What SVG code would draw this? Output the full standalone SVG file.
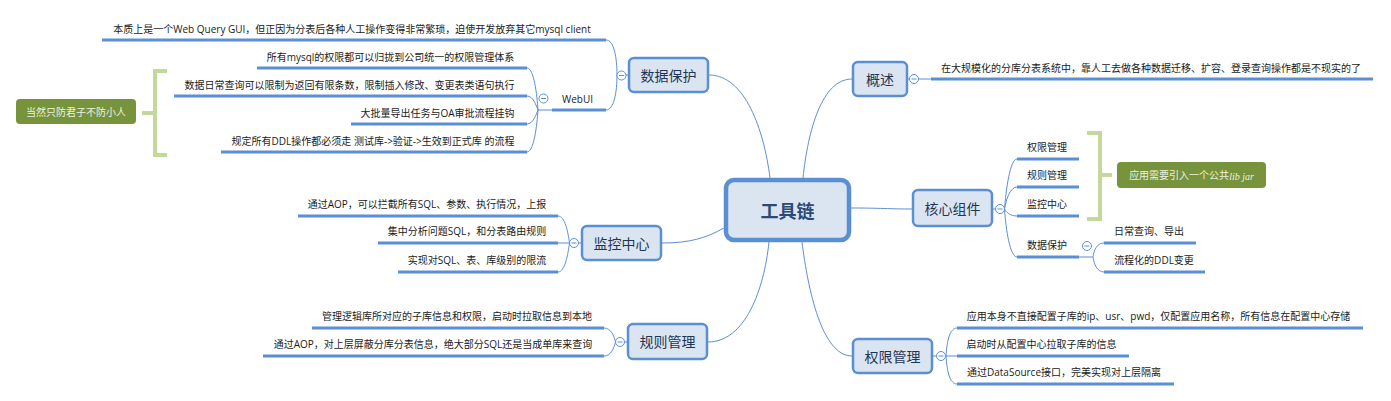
<svg xmlns="http://www.w3.org/2000/svg" width="1391" height="401" viewBox="0 0 1391 401">
<style>
.bg{fill:#ffffff}
.box{fill:#dbe5f1;stroke:#5b8fd4;stroke-width:2.5}
.root{fill:#dbe5f1;stroke:#5b8fd4;stroke-width:4.5}
.bt{font-family:"Open Sans","Noto Sans CJK SC",sans-serif;font-size:14px;fill:#1f3556;text-anchor:middle;dominant-baseline:central}
.rt{font-family:"Open Sans","Noto Sans CJK SC",sans-serif;font-size:18px;font-weight:bold;fill:#2b4a78;text-anchor:middle;dominant-baseline:central}
.t{font-family:"Open Sans","Noto Sans CJK SC",sans-serif;font-size:10px;fill:#1a1a1a}
.tm{text-anchor:middle}
.ul{stroke:#5b8fd4;stroke-width:3;fill:none}
.c{stroke:#5b8fd4;stroke-width:1;fill:none}
.btn{fill:#ffffff;stroke:#5b8fd4;stroke-width:1}
.btnm{stroke:#5b8fd4;stroke-width:1}
.br{stroke:#c4d89c;stroke-width:4;fill:none}
.gn{fill:#77933c}
.gt{font-family:"Liberation Serif","Noto Sans CJK SC",serif;font-size:10px;fill:#edf2e2;text-anchor:middle;dominant-baseline:central}
</style>
<rect class="bg" x="0" y="0" width="1391" height="401"/>

<g id="connectors">
  <path class="c" d="M709,75 C745,75 764,130 770,178"/>
  <path class="c" d="M852,79 C822,79 808,130 803,178"/>
  <path class="c" d="M662,243 C690,243 706,238 724,228"/>
  <path class="c" d="M708,342 C745,342 764,290 769,242"/>
  <path class="c" d="M852,356 C822,356 808,290 802,242"/>
  <path class="c" d="M851,208 C880,208 890,209 912,209"/>

  <path class="c" d="M628,75 H626"/>
  <path class="c" d="M606,40 C614,40 617,58 617,75 C617,92 614,110 606,110"/>
  <path class="c" d="M527,68 C534,68 537,95 538,110 M527,96 C533,96 536,105 538,110 M527,124 C533,124 536,115 538,110 M527,152 C534,152 537,125 538,110 M538,110 H552"/>

  <path class="c" d="M908,79 H909.5 M918.5,79 H931"/>

  <path class="c" d="M581,243 H578.5"/>
  <path class="c" d="M558,216 C565,216 568,232 569.5,243 M558,243 H569.5 M558,272 C565,272 568,254 569.5,243"/>

  <path class="c" d="M627,342 H624.5"/>
  <path class="c" d="M604,328 C611,328 614,336 615.5,342 M604,356 C611,356 614,348 615.5,342"/>

  <path class="c" d="M933,356 H936.5"/>
  <path class="c" d="M945.5,356 H957 M957,328 C950,328 947,340 946,356 M957,384 C950,384 947,372 946,356"/>

  <path class="c" d="M993,209 H995.5"/>
  <path class="c" d="M1017,159 C1010,159 1006,190 1004.5,209 M1017,187 C1010,187 1006,200 1004.5,209 M1017,216 C1010,216 1006,212 1004.5,209 M1017,257 C1010,257 1006,230 1004.5,209"/>
  <path class="c" d="M1079,257 H1093 M1104,243 C1097,243 1094,250 1093,257 M1104,272 C1097,272 1094,264 1093,257"/>
</g>

<g id="root">
  <rect class="root" x="726" y="180" width="123" height="60" rx="8"/>
  <text class="rt" x="787.5" y="211">工具链</text>
</g>

<g id="n-shujubaohu">
  <rect class="box" x="629" y="58" width="79" height="34" rx="5"/>
  <text class="bt" x="668.5" y="75">数据保护</text>
  <circle class="btn" cx="621.5" cy="75.5" r="4.5"/><path class="btnm" d="M619,75.5 H624"/>
</g>
<g id="n-d1">
  <text class="t tm" x="352" y="33">本质上是一个Web Query GUI，但正因为分表后各种人工操作变得非常繁琐，迫使开发放弃其它mysql client</text>
  <path class="ul" d="M102,40 H606"/>
</g>
<g id="n-webui">
  <text class="t tm" x="577.5" y="103">WebUI</text>
  <path class="ul" d="M552,110 H606"/>
  <circle class="btn" cx="543.5" cy="98.5" r="4.5"/><path class="btnm" d="M541,98.5 H546"/>
</g>
<g id="n-w1">
  <text class="t tm" x="390.5" y="61">所有mysql的权限都可以归拢到公司统一的权限管理体系</text>
  <path class="ul" d="M257,68 H527"/>
</g>
<g id="n-w2">
  <text class="t tm" x="349.5" y="89">数据日常查询可以限制为返回有限条数，限制插入修改、变更表类语句执行</text>
  <path class="ul" d="M174,96 H527"/>
</g>
<g id="n-w3">
  <text class="t tm" x="437.5" y="117">大批量导出任务与OA审批流程挂钩</text>
  <path class="ul" d="M351,124 H527"/>
</g>
<g id="n-w4">
  <text class="t tm" x="373" y="145">规定所有DDL操作都必须走 测试库-&gt;验证-&gt;生效到正式库 的流程</text>
  <path class="ul" d="M221,152 H527"/>
</g>
<g id="n-note1">
  <path class="br" d="M167,71 H155 V155 H167 M155,113 H142"/>
  <rect class="gn" x="16" y="99" width="120" height="25" rx="4"/>
  <text class="gt" x="76" y="112">当然只防君子不防小人</text>
</g>

<g id="n-gaishu">
  <rect class="box" x="853" y="62" width="54" height="34" rx="5"/>
  <text class="bt" x="880" y="79">概述</text>
  <circle class="btn" cx="914" cy="79" r="4.5"/><path class="btnm" d="M911.5,79 H916.5"/>
</g>
<g id="n-g1">
  <text class="t tm" x="1151" y="72">在大规模化的分库分表系统中，靠人工去做各种数据迁移、扩容、登录查询操作都是不现实的了</text>
  <path class="ul" d="M931,79 H1373"/>
</g>

<g id="n-jiankong">
  <rect class="box" x="582" y="226" width="79" height="34" rx="5"/>
  <text class="bt" x="621.5" y="243">监控中心</text>
  <circle class="btn" cx="574" cy="243" r="4.5"/><path class="btnm" d="M571.5,243 H576.5"/>
</g>
<g id="n-j1">
  <text class="t tm" x="427" y="208">通过AOP，可以拦截所有SQL、参数、执行情况，上报</text>
  <path class="ul" d="M298,216 H558"/>
</g>
<g id="n-j2">
  <text class="t tm" x="467" y="235">集中分析问题SQL，和分表路由规则</text>
  <path class="ul" d="M378,243 H558"/>
</g>
<g id="n-j3">
  <text class="t tm" x="477" y="264">实现对SQL、表、库级别的限流</text>
  <path class="ul" d="M398,272 H558"/>
</g>

<g id="n-guize">
  <rect class="box" x="628" y="324" width="79" height="35" rx="5"/>
  <text class="bt" x="667.5" y="341.5">规则管理</text>
  <circle class="btn" cx="620" cy="342" r="4.5"/><path class="btnm" d="M617.5,342 H622.5"/>
</g>
<g id="n-r1">
  <text class="t tm" x="457" y="320">管理逻辑库所对应的子库信息和权限，启动时拉取信息到本地</text>
  <path class="ul" d="M312,328 H604"/>
</g>
<g id="n-r2">
  <text class="t tm" x="433" y="348">通过AOP，对上层屏蔽分库分表信息，绝大部分SQL还是当成单库来查询</text>
  <path class="ul" d="M263,356 H604"/>
</g>

<g id="n-quanxian">
  <rect class="box" x="853" y="339" width="79" height="34" rx="5"/>
  <text class="bt" x="892.5" y="356">权限管理</text>
  <circle class="btn" cx="941" cy="356" r="4.5"/><path class="btnm" d="M938.5,356 H943.5"/>
</g>
<g id="n-q1">
  <text class="t tm" x="1158.5" y="320">应用本身不直接配置子库的ip、usr、pwd，仅配置应用名称，所有信息在配置中心存储</text>
  <path class="ul" d="M957,328 H1363"/>
</g>
<g id="n-q2">
  <text class="t tm" x="1041.5" y="348">启动时从配置中心拉取子库的信息</text>
  <path class="ul" d="M957,356 H1129"/>
</g>
<g id="n-q3">
  <text class="t tm" x="1064" y="376">通过DataSource接口，完美实现对上层隔离</text>
  <path class="ul" d="M957,384 H1174"/>
</g>

<g id="n-hexin">
  <rect class="box" x="913" y="190" width="79" height="36" rx="5"/>
  <text class="bt" x="952.5" y="208">核心组件</text>
  <circle class="btn" cx="1000" cy="209" r="4.5"/><path class="btnm" d="M997.5,209 H1002.5"/>
</g>
<g id="n-h1">
  <text class="t tm" x="1047" y="151">权限管理</text>
  <path class="ul" d="M1017,159 H1079"/>
</g>
<g id="n-h2">
  <text class="t tm" x="1047" y="179">规则管理</text>
  <path class="ul" d="M1017,187 H1079"/>
</g>
<g id="n-h3">
  <text class="t tm" x="1047" y="208">监控中心</text>
  <path class="ul" d="M1017,216 H1079"/>
</g>
<g id="n-h4">
  <text class="t tm" x="1047" y="249">数据保护</text>
  <path class="ul" d="M1017,257 H1079"/>
  <circle class="btn" cx="1087" cy="246" r="4.5"/><path class="btnm" d="M1084.5,246 H1089.5"/>
</g>
<g id="n-h4a">
  <text class="t tm" x="1149" y="235">日常查询、导出</text>
  <path class="ul" d="M1104,243 H1196"/>
</g>
<g id="n-h4b">
  <text class="t tm" x="1154" y="264">流程化的DDL变更</text>
  <path class="ul" d="M1104,272 H1205"/>
</g>
<g id="n-note2">
  <path class="br" d="M1087,133 H1100 V219 H1087 M1100,175 H1112"/>
  <rect class="gn" x="1117" y="162" width="149" height="26" rx="4"/>
  <text class="gt" x="1191.5" y="175.5">应用需要引入一个公共<tspan font-style="italic">lib jar</tspan></text>
</g>
</svg>
